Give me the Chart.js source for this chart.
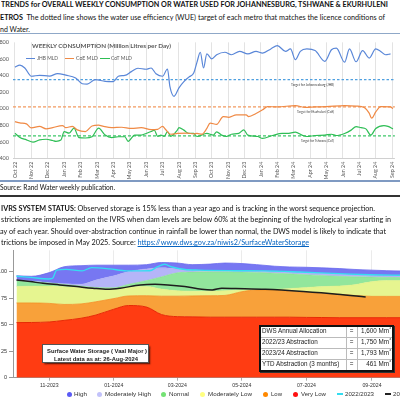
<!DOCTYPE html>
<html><head><meta charset="utf-8">
<script src="https://cdn.jsdelivr.net/npm/chart.js@4.4.1/dist/chart.umd.min.js"></script>
<style>
html,body{margin:0;padding:0;background:#fff;}
body{width:400px;height:400px;overflow:hidden;position:relative;font-family:Lato,'Open Sans',sans-serif;color:#111;}
.t{position:absolute;left:0;white-space:nowrap;font-size:8px;line-height:8px;transform-origin:0 50%;}
.b{font-weight:bold}
.hr{position:absolute;left:0;width:400px;}
canvas{position:absolute;}
.ov{position:absolute;white-space:nowrap;line-height:1;transform-origin:0 50%;}
.lg{position:absolute;font-family:'Liberation Sans',Arial,sans-serif;font-size:5.4px;color:#333;white-space:nowrap;line-height:6px;transform-origin:0 50%;}
.dot{position:absolute;width:5px;height:5px;border-radius:50%;}
.ln{position:absolute;height:1.3px;}
table.ab{position:absolute;left:259px;top:324.5px;width:135px;height:46px;table-layout:fixed;border-collapse:collapse;border:2px solid #111;background:#fff;font-family:'Liberation Sans',Arial,sans-serif;font-size:6.3px;color:#222;box-shadow:1px 1px 0 #333;}
table.ab td{border:1px solid #bbb;padding:0 1px;line-height:1;height:10px;white-space:nowrap;overflow:hidden;}
table.ab td.c{text-align:center}
table.ab td.r{text-align:right}
table.ab sup{font-size:3.8px;line-height:0;vertical-align:top;position:relative;top:-0.5px}
a{color:#0563C1;text-decoration:underline}
</style></head><body>

<div class="t b" data-w="387" style="left:1px;top:0.3px">TRENDS for OVERALL WEEKLY CONSUMPTION OR WATER USED FOR JOHANNESBURG, TSHWANE &amp; EKURHULENI</div>
<div class="t" data-w="385" style="top:13.1px"><b>ETROS</b>&nbsp; The dotted line shows the water use efficiency (WUE) target of each metro that matches the licence conditions of</div>
<div class="t" data-w="30" style="top:25.1px">nd Water.</div>
<div class="hr" style="top:32.5px;height:1px;background:#8FA8C8"></div>

<canvas id="top" width="412" height="148" style="left:-10px;top:35px;width:412px;height:148px"></canvas>
<div class="ov" data-w="139" style="left:32px;top:43px;font-size:5.6px;font-weight:bold;color:#595959">WEEKLY CONSUMPTION (Million Litres per Day)</div>
<div class="ln" style="left:26px;top:57.7px;width:9px;background:#5A87D8"></div>
<div class="ov" data-w="21" style="left:37px;top:55.8px;font-size:5px;color:#595959">JHB MLD</div>
<div class="ln" style="left:65px;top:57.7px;width:9px;background:#F08A45"></div>
<div class="ov" data-w="22" style="left:75.5px;top:55.8px;font-size:5px;color:#595959">CoE MLD</div>
<div class="ln" style="left:100px;top:57.7px;width:10px;background:#2EBE55"></div>
<div class="ov" data-w="21" style="left:111px;top:55.8px;font-size:5px;color:#595959">CoT MLD</div>

<div class="hr" style="top:180px;height:1.5px;background:#7F9AC2"></div>
<div class="t" data-w="115" style="top:184.3px;font-size:7.5px;line-height:7.5px">Source: Rand Water weekly publication.</div>
<div class="hr" style="top:195px;height:1.6px;background:#333"></div>

<div class="t" data-w="374" style="left:1px;top:203.8px"><b>IVRS SYSTEM STATUS:</b> Observed storage is 15% less than a year ago and is tracking in the worst sequence projection.</div>
<div class="t" data-w="390" style="left:1px;top:215.3px">strictions are implemented on the IVRS when dam levels are below 60% at the beginning of the hydrological year starting in</div>
<div class="t" data-w="386" style="top:226.8px">ay of each year. Should over-abstraction continue in rainfall be lower than normal, the DWS model is likely to indicate that</div>
<div class="t" data-w="308" style="left:1px;top:238.3px">trictions be imposed in May 2025. Source: <a>https://www.dws.gov.za/niwis2/SurfaceWaterStorage</a></div>

<canvas id="bot" width="403" height="147" style="left:0;top:245px;width:403px;height:147px"></canvas>

<div style="position:absolute;left:41.7px;top:344px;width:107.3px;height:19.3px;border:1px solid #555;background:#fff;box-shadow:1.5px 1.5px 1.5px rgba(0,0,0,.55);box-sizing:border-box;"></div>
<div class="ov" data-w="100" style="left:46.7px;top:348.3px;font:bold 5.5px 'Liberation Sans',Arial,sans-serif;color:#222">Surface Water Storage ( Vaal Major )</div>
<div class="ov" data-w="84" style="left:54px;top:355.6px;font:bold 5.5px 'Liberation Sans',Arial,sans-serif;color:#222">Latest data as at: 26-Aug-2024</div>

<table class="ab"><colgroup><col style="width:86px"><col style="width:11px"><col style="width:36px"></colgroup>
<tr><td>DWS Annual Allocation</td><td class="c">=</td><td class="r">1,600 Mm<sup>3</sup></td></tr>
<tr><td>2022/23 Abstraction</td><td class="c">=</td><td class="r">1,750 Mm<sup>3</sup></td></tr>
<tr><td>2023/24 Abstraction</td><td class="c">=</td><td class="r">1,793 Mm<sup>3</sup></td></tr>
<tr><td>YTD Abstraction (3 months)</td><td class="c">=</td><td class="r">461 Mm<sup>3</sup></td></tr>
</table>

<div class="dot" style="left:66.5px;top:391.5px;background:#5B5BF5"></div>
<div class="lg" data-w="13" style="left:74px;top:391px">High</div>
<div class="dot" style="left:96.5px;top:391.5px;background:#C2C2FA"></div>
<div class="lg" data-w="46" style="left:105px;top:391px">Moderately High</div>
<div class="dot" style="left:160.5px;top:391.5px;background:#74E274"></div>
<div class="lg" data-w="20" style="left:169px;top:391px">Normal</div>
<div class="dot" style="left:199.5px;top:391.5px;background:#FFFF80"></div>
<div class="lg" data-w="44" style="left:208px;top:391px">Moderately Low</div>
<div class="dot" style="left:262.5px;top:391.5px;background:#FF8800"></div>
<div class="lg" data-w="11" style="left:271px;top:391px">Low</div>
<div class="dot" style="left:292.5px;top:391.5px;background:#FF1010"></div>
<div class="lg" data-w="25" style="left:301px;top:391px">Very Low</div>
<div class="ln" style="left:337px;top:393.4px;width:6px;background:#33DDF0"></div>
<div class="lg" data-w="29" style="left:345px;top:391px">2022/2023</div>
<div class="ln" style="left:385px;top:393.4px;width:6px;background:#222"></div>
<div class="lg" data-w="29" style="left:393px;top:391px">2023/2024</div>

<script>
// ---------- TOP CHART DATA ----------
const monthLabels=['Oct 22','Nov 22','Dec 22','Jan 23','Feb 23','Mar 23','Apr 23','May 23','Jun 23','Jul 23','Aug 23','Sep 23','Oct 23','Nov 23','Dec 23','Jan 24','Feb 24','Mar 24','Apr 24','May 24','Jun 24','Jul 24','Aug 24','Sep 24'];
const yTicksTop=[400,600,800,1000,1200,1400,1600,1800];
const jhbPos=[0,0.3,0.6,1.0,1.5,2.1,2.6,3.1,3.7,4.1,4.4,4.9,5.5,6.0,6.3,6.7,7.1,7.5,8.0,8.3,8.6,9.0,9.3,9.45,9.7,10.0,10.3,10.6,10.9,11.1,11.3,11.5,11.7,12.0,12.3,12.8,13.2,13.7,14.2,14.7,15.1,15.6,16.0,16.5,16.8,17.1,17.4,17.8,18.3,18.9,19.3,19.6,20.1,20.4,20.8,21.2,21.6,22.0,22.3,22.6,22.9];
const jhbMLD=[1500,1525,1490,1390,1402,1392,1422,1403,1370,1300,1295,1350,1328,1325,1390,1400,1446,1487,1475,1490,1420,1390,1478,1265,1148,1250,1325,1380,1430,1560,1680,1490,1660,1600,1650,1680,1650,1690,1660,1690,1670,1720,1760,1690,1720,1590,1690,1720,1700,1570,1710,1730,1560,1720,1565,1700,1610,1720,1690,1650,1660];
const coePos=[0,0.3,0.7,1.0,1.5,1.9,2.3,2.9,3.1,3.5,3.8,4.3,4.7,5.1,5.4,5.9,6.5,7.1,7.7,8.3,8.7,9.0,9.2,9.5,9.9,10.5,10.9,11.1,11.4,11.7,11.9,12.3,12.7,13.05,13.5,14.1,14.25,14.7,15.1,15.4,16.0,17.1,17.7,18.3,19.0,20.1,20.8,21.3,21.6,21.75,22.0,22.3,22.9,23.05];
const coeMLD=[843,827,815,767,785,755,770,795,770,785,743,723,790,800,785,770,775,760,770,745,750,785,745,690,700,703,695,700,691,760,825,810,903,895,924,924,903,940,985,1024,1020,1036,1015,1020,1024,1036,1030,1012,945,884,960,1024,1020,1000];
const cotPos=[0,0.3,0.7,1.1,1.5,1.9,2.3,2.5,2.8,3.0,3.3,3.6,3.9,4.3,4.7,5.1,5.5,5.9,6.3,6.7,6.9,7.3,7.7,8.0,8.3,8.5,8.7,8.9,9.1,9.3,9.5,9.9,10.0,10.3,10.6,10.9,11.1,11.7,12.1,12.3,12.6,12.9,13.2,13.65,13.95,14.2,14.8,15.1,15.7,16.3,16.6,17.1,17.5,17.8,18.3,18.9,19.3,19.6,20.1,20.5,20.8,21.1,21.4,21.7,22.0,22.5,22.75,23.05];
const cotMLD=[703,650,623,595,623,630,615,605,620,723,703,764,650,645,660,764,680,650,660,660,605,680,680,700,723,740,665,680,665,723,665,740,770,740,700,700,663,700,680,720,680,663,690,700,743,680,663,640,675,700,700,715,680,663,675,680,690,675,700,740,783,770,755,680,760,795,785,755];
const targetNames=['Target for Johannesburg (JHB)','Target for Ekurhuleni (CoE)','Target for Tshwane (CoT)'];
const targetValues=[1350,1020,670];

// ---------- BOTTOM CHART DATA ----------
const areaDates=['2023-10-01','2023-10-15','2023-11-01','2023-11-15','2023-12-01','2023-12-15','2024-01-01','2024-01-15','2024-02-01','2024-02-15','2024-03-01','2024-03-15','2024-04-01','2024-04-15','2024-05-01','2024-05-15','2024-06-01','2024-06-15','2024-07-01','2024-07-15','2024-08-01','2024-08-15','2024-09-01','2024-09-15','2024-09-30'];
const veryLow=[51.9,52,52.5,54,56,59,64.5,68,66.5,59.5,57.5,57.3,57,57,57,57,57,57,56.8,56.7,56.5,56.5,56.5,56.5,56.5];
const low=[70.4,70.4,70,69,69.5,71.5,74.5,77,77.2,76.8,76.8,77,77.2,77.5,81,82.5,82.5,81.5,80.5,79.6,78.5,77.5,76.6,76.6,76.6];
const modLow=[86,86.2,86.3,85.7,85,84,83.5,85.5,86,83.5,82,81.5,81.5,82,82.7,83,83.2,84,85,85.8,86.4,87.5,90.5,91.5,91.5];
const normal=[91.3,90.5,89.2,87.8,86.3,85,84.8,88,91.5,95,98.8,99.5,99.7,99.7,99.5,99.2,98.5,97.8,97,96.3,95.5,95,94.8,94.5,94.3];
const modHigh=[92.3,91,89.5,88.5,88,92,96,100,102.5,103.5,102.5,101.5,100.8,100.8,100.7,100.5,100.2,99.7,99,98.3,97.6,96.9,96.3,96,95.8];
const high=[96,95.5,99,104.5,105.5,106,106,106,106.5,108.5,108,106.5,107,108,107.5,106.5,105,104.3,104,103.5,102.8,102,101.3,100.8,100.5];
const storage2223Dates=['2023-10-01','2023-10-14','2023-10-31','2023-11-04','2023-11-08','2023-11-17','2023-12-02','2023-12-11','2023-12-28','2024-01-13','2024-02-04','2024-02-11','2024-02-18','2024-02-25','2024-03-08','2024-03-22','2024-04-24','2024-05-22','2024-06-25','2024-08-01','2024-08-30','2024-09-30'];
const storage2223=[95.5,94.5,93,93.5,101.3,102,100.6,103.7,102.5,100.6,100.8,104.3,106.8,104.3,101.9,101.3,100.8,100.6,99.5,98,97,96.5];
const storage2324Dates=['2023-10-01','2023-10-14','2023-10-26','2023-11-11','2023-11-27','2023-12-12','2023-12-26','2024-01-07','2024-01-26','2024-02-09','2024-02-21','2024-03-08','2024-03-24','2024-04-03','2024-04-12','2024-04-25','2024-05-23','2024-06-28','2024-07-30','2024-08-26'];
const storage2324=[92,90.5,88.9,87.4,85.8,84.3,83.3,84.3,87.4,88,87.4,85.8,83.3,82.7,84.3,84,83.3,81.2,78.7,75.9];
const xTickDates=['2023-11-01','2024-01-01','2024-03-01','2024-05-01','2024-07-01','2024-09-01'];
const xTickLabels=['11-2023','01-2024','03-2024','05-2024','07-2024','09-2024'];
const yTicksBot=[0,25,50,75,100];

// ---------- helpers ----------
const pts=(xs,ys)=>xs.map((x,i)=>({x:x,y:ys[i]}));
const dayOf=s=>(Date.UTC(+s.slice(0,4),+s.slice(5,7)-1,+s.slice(8,10))-Date.UTC(2023,9,1))/86400000;
const dpts=(ds,ys)=>ds.map((d,i)=>({x:dayOf(d),y:ys[i]}));

// ---------- TOP CHART ----------
const xMinTop=-0.12, xMaxTop=23.17;
const targetLabelPlugin={id:'targetLabels',afterDatasetsDraw(chart){
  const {ctx,scales:{x,y}}=chart;const widths=[43,37,33];
  ctx.save();ctx.font='4.3px Lato';ctx.fillStyle='#404040';ctx.textAlign='right';ctx.textBaseline='middle';
  targetNames.forEach((t,i)=>ctx.fillText(t,x.getPixelForValue(19.46),y.getPixelForValue(targetValues[i])+5,widths[i]));
  ctx.restore();}};
const tline=(v,color,dash)=>({data:[{x:xMinTop,y:v},{x:xMaxTop,y:v}],borderColor:color,borderWidth:1.3,borderDash:dash,pointRadius:0,fill:false});
new Chart(document.getElementById('top'),{
  type:'line',
  data:{datasets:[
    {data:pts(jhbPos,jhbMLD),borderColor:'#5A87D8',borderWidth:1.2,pointRadius:0,cubicInterpolationMode:'monotone',fill:false},
    {data:pts(coePos,coeMLD),borderColor:'#F08A45',borderWidth:1.2,pointRadius:0,cubicInterpolationMode:'monotone',fill:false},
    {data:pts(cotPos,cotMLD),borderColor:'#2EBE55',borderWidth:1.2,pointRadius:0,cubicInterpolationMode:'monotone',fill:false},
    tline(targetValues[0],'#4FA0E0',[2.5,2]),
    tline(targetValues[1],'#F29A60',[3,2]),
    tline(targetValues[2],'#3CC868',[3,2])
  ]},
  options:{responsive:false,animation:false,events:[],
    layout:{padding:{top:7.3,left:0,right:0,bottom:0},autoPadding:false},
    plugins:{legend:{display:false},tooltip:{enabled:false}},
    scales:{
      x:{type:'linear',min:xMinTop,max:xMaxTop,
        afterBuildTicks:s=>{s.ticks=monthLabels.map((m,i)=>({value:i}));},
        afterFit:s=>{s.height=24.7;},
        grid:{color:'#DCDCDC',lineWidth:0.8,drawTicks:false},
        border:{color:'#D0D0D0'},
        ticks:{autoSkip:false,minRotation:90,maxRotation:90,padding:3.5,color:'#595959',font:{family:'Lato',size:5.3},callback:(v,i)=>monthLabels[i]}},
      y:{min:400,max:1800,
        afterBuildTicks:s=>{s.ticks=yTicksTop.map(v=>({value:v}));},
        afterFit:s=>{s.width=23;},
        grid:{display:false,drawTicks:false},border:{display:false},
        ticks:{padding:4,color:'#595959',font:{family:'Lato',size:5.5}}}
    }},
  plugins:[targetLabelPlugin]
});

// ---------- BOTTOM CHART ----------
const band=(vals,fill,bg,bc,bw)=>({data:dpts(areaDates,vals),fill:fill,backgroundColor:bg,borderColor:bc,borderWidth:bw,pointRadius:0,cubicInterpolationMode:'monotone'});
new Chart(document.getElementById('bot'),{
  type:'line',
  data:{datasets:[
    {data:dpts(storage2223Dates,storage2223),borderColor:'#35DDF2',borderWidth:1.4,pointRadius:0,fill:false,cubicInterpolationMode:'monotone'},
    {data:dpts(storage2324Dates,storage2324),borderColor:'#1E1E1E',borderWidth:1.5,pointRadius:0,fill:false,cubicInterpolationMode:'monotone'},
    band(veryLow,'origin','#FF3C12','#E62C05',1),
    band(low,'-1','#F8A13A','#F39026',0.8),
    band(modLow,'-1','#E6F590','#DCEF80',0.5),
    band(normal,'-1','#92E69C','#86DE92',0.5),
    band(modHigh,'-1','#B5B5F8','#A8A8F2',0.5),
    band(high,'-1','#7777F2','#6A6AEE',0.8)
  ]},
  options:{responsive:false,animation:false,events:[],
    layout:{padding:{top:3.1,left:0,right:0,bottom:0},autoPadding:false},
    plugins:{legend:{display:false},tooltip:{enabled:false}},
    scales:{
      x:{type:'linear',min:-3.3,max:365.3,
        afterBuildTicks:s=>{s.ticks=xTickDates.map(d=>({value:dayOf(d)}));},
        afterFit:s=>{s.height=14.3;},
        grid:{color:'#E6E6E6',lineWidth:0.8,tickColor:'#999',tickLength:3},
        border:{color:'#999',width:1},
        ticks:{autoSkip:false,maxRotation:0,padding:1.6,color:'#333',font:{family:'Liberation Sans',size:5.2},callback:(v,i)=>xTickLabels[i]}},
      y:{min:0,max:120,
        afterBuildTicks:s=>{s.ticks=yTicksBot.map(v=>({value:v}));},
        afterFit:s=>{s.width=13;},
        grid:{drawOnChartArea:false,tickColor:'#999',tickLength:4},
        border:{color:'#999',width:1},
        ticks:{padding:2,color:'#333',font:{family:'Liberation Sans',size:5.5}}}
    }}
});

// ---------- fit text widths ----------
function fit(){document.querySelectorAll('[data-w]').forEach(el=>{el.style.transform='none';const w=el.getBoundingClientRect().width;if(w>0)el.style.transform='scaleX('+(+el.dataset.w/w)+')';});}
fit();
if(document.fonts&&document.fonts.ready)document.fonts.ready.then(fit);
</script>
</body></html>
